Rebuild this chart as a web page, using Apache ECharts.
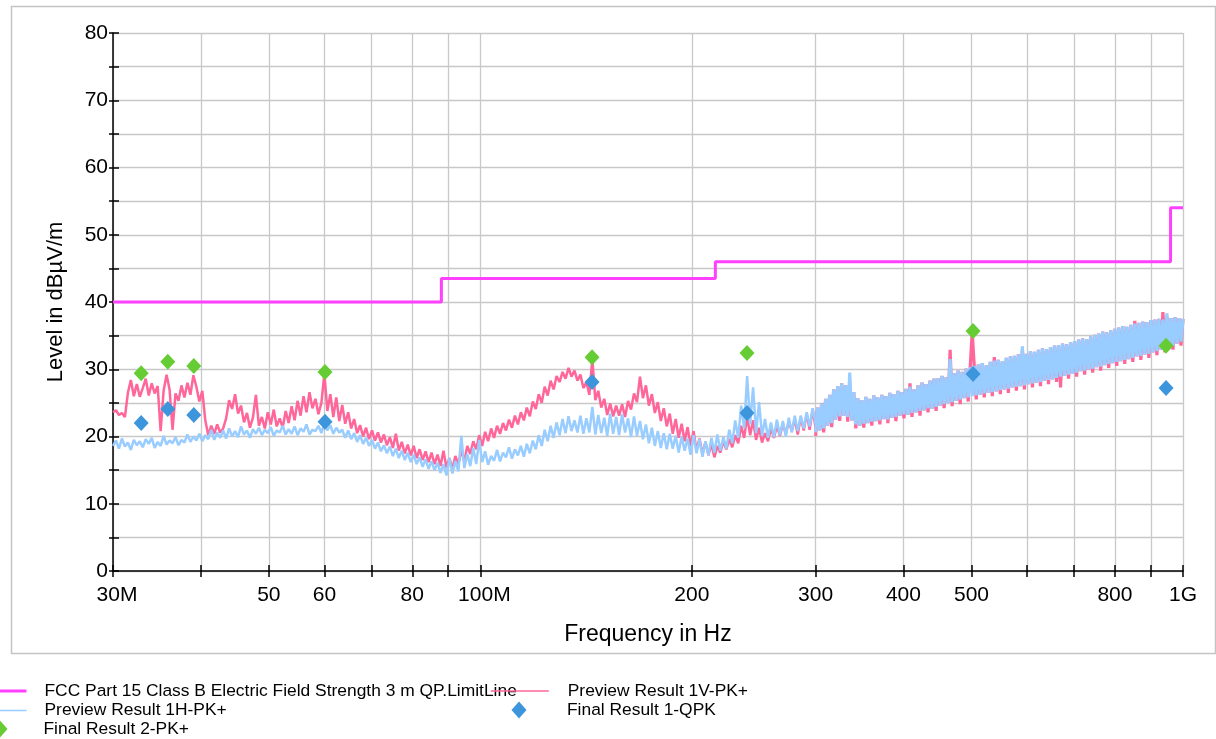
<!DOCTYPE html>
<html>
<head>
<meta charset="utf-8">
<script src="https://cdn.jsdelivr.net/npm/echarts@6/dist/echarts.min.js"></script>
<style>
  html, body { margin: 0; padding: 0; background: #ffffff; }
  #chart { width: 1216px; height: 739px; }
</style>
</head>
<body>
<div id="chart"></div>
<script>
// Sweep segments of the radiated emission scan (MHz): 30-300 and 300-1000
const sweepEdgesMHz = [30, 300, 1000];

// Frequency axis: grid lines and labelled ticks (MHz)
const gridFreqs = [30, 40, 50, 60, 70, 80, 90, 100, 200, 300, 400, 500, 600, 700, 800, 900, 1000];
const labelFreqs = [30, 50, 60, 80, 100, 200, 300, 400, 500, 800, 1000];
const labelTexts = ['30M', '50', '60', '80', '100M', '200', '300', '400', '500', '800', '1G'];

// FCC Part 15 Class B limit (3 m, quasi-peak), stepped
const limitFreqs = [30, 88, 88, 216, 216, 960, 960, 1000];
const limitLevels = [40, 40, 43.5, 43.5, 46, 46, 54, 54];

// Preview scan, vertical antenna, peak detector, 30-300 MHz (dBµV/m)
const previewVLow = [
  23.6, 23.9, 23.2, 23.5, 22.9, 26.5, 28.4, 26.0, 27.8, 25.9,
  27.2, 28.6, 26.1, 27.9, 26.4, 27.5, 20.8, 26.8, 29.2, 27.0,
  21.0, 26.4, 25.3, 27.6, 25.8, 28.0, 26.2, 29.1, 27.4, 25.2,
  26.8, 22.4, 20.2, 21.6, 20.4, 21.8, 20.6, 21.2, 22.7, 25.4,
  24.1, 26.3, 23.4, 24.6, 22.1, 23.5, 21.3, 22.8, 26.2, 21.6,
  22.9, 21.2, 23.6, 21.8, 24.0, 21.5, 22.7, 21.3, 23.8, 22.0,
  24.5, 22.4, 25.3, 23.1, 26.0, 23.6, 26.6, 24.2, 25.6, 23.3,
  25.0, 29.4, 23.8, 26.3, 22.9, 25.8, 22.3, 24.7, 21.9, 23.6,
  21.2, 22.6, 20.5, 21.7, 20.0, 21.3, 19.6, 20.9, 19.4, 20.6,
  19.1, 20.3, 18.7, 19.9, 18.3, 20.4, 17.9, 19.2, 17.5, 18.8,
  17.2, 18.6, 16.8, 18.1, 16.5, 17.8, 16.2, 17.6, 15.9, 17.3,
  15.6, 17.9, 15.4, 16.8, 15.2, 17.1, 15.8, 18.0, 16.3, 18.6,
  17.4, 19.3, 18.1, 20.2, 18.6, 20.7, 19.3, 21.2, 19.8, 21.6,
  20.4, 22.0, 20.9, 22.5, 21.3, 23.1, 21.8, 23.6, 22.4, 24.3,
  23.0, 25.2, 24.1, 26.3, 25.0, 27.4, 26.1, 28.3, 27.0, 29.0,
  28.1, 29.6, 28.6, 30.2, 28.9, 29.8, 28.3, 29.2, 27.2, 28.1,
  26.2, 31.6, 25.4, 26.8, 24.3, 25.6, 23.2, 24.9, 23.0, 24.6,
  23.1, 24.8, 22.9, 25.3, 24.0, 26.4, 25.1, 28.9, 25.7, 27.6,
  24.6, 26.3, 23.5, 25.1, 22.3, 24.2, 21.5, 23.4, 20.4, 22.6,
  19.8, 21.9, 19.3, 21.4, 18.6, 20.8, 17.9, 19.7, 17.4, 19.2,
  17.2, 18.9, 16.9, 18.6, 17.6, 19.3, 18.1, 19.6, 18.4, 20.2,
  19.0, 21.6, 19.8, 23.0, 20.2, 22.4, 19.5, 21.3, 19.1, 20.5,
  19.3, 21.2, 19.8, 21.6, 20.1, 21.9, 20.4, 22.3, 20.8, 22.6,
  20.3, 22.9, 20.9, 23.4, 21.0, 24.0, 21.3
];

// Preview scan, vertical antenna, peak detector, 300-1000 MHz (dBµV/m)
const previewVHigh = [
  20.1, 24.3, 20.9, 24.9, 20.6, 25.6, 21.6, 26.2, 21.4, 27.0,
  22.5, 27.5, 22.3, 27.9, 23.1, 27.6, 22.2, 28.0, 22.4, 26.6,
  21.2, 25.7, 21.6, 25.4, 21.3, 25.9, 22.0, 25.6, 21.6, 26.1,
  22.3, 25.8, 21.8, 26.2, 22.6, 26.0, 22.0, 26.5, 22.8, 26.3,
  22.3, 26.8, 23.1, 26.6, 22.7, 27.1, 23.2, 27.9, 22.9, 27.0,
  23.6, 27.6, 23.1, 28.0, 23.9, 27.8, 23.6, 28.3, 24.1, 28.6,
  23.8, 28.7, 24.6, 29.0, 24.2, 28.8, 25.0, 32.9, 24.5, 29.4,
  25.3, 29.8, 24.8, 29.6, 25.7, 30.1, 25.2, 30.3, 35.6, 30.5,
  25.5, 30.7, 26.2, 30.9, 25.8, 30.6, 26.5, 31.1, 26.0, 31.8,
  26.7, 31.4, 26.3, 31.2, 27.0, 31.7, 26.5, 31.9, 27.3, 32.0,
  26.8, 32.2, 27.5, 32.9, 27.0, 32.3, 27.8, 32.7, 27.3, 32.6,
  28.0, 32.9, 27.5, 33.1, 28.3, 33.0, 27.8, 33.3, 28.5, 33.5,
  28.1, 33.6, 27.3, 33.8, 29.0, 33.7, 28.6, 34.0, 29.3, 34.2,
  28.9, 34.4, 29.7, 34.6, 29.2, 34.5, 30.0, 34.9, 29.5, 35.1,
  30.3, 35.3, 29.8, 35.6, 30.6, 35.5, 30.2, 35.8, 30.9, 36.0,
  30.5, 36.2, 31.2, 36.4, 30.8, 36.3, 31.5, 36.6, 31.1, 37.2,
  31.9, 36.9, 31.4, 37.1, 32.2, 37.0, 31.7, 37.3, 32.5, 37.4,
  32.1, 37.5, 32.9, 38.5, 32.5, 37.8, 33.3, 37.6, 32.9, 37.7,
  33.8, 37.6, 33.5, 37.5
];

// Preview scan, horizontal antenna, peak detector, 30-300 MHz (dBµV/m)
const previewHLow = [
  18.6, 19.4, 18.2, 19.7, 18.5, 19.1, 18.0, 19.5, 18.7, 19.3,
  18.4, 19.6, 18.9, 19.8, 18.3, 19.2, 18.6, 20.1, 18.8, 19.4,
  19.0, 19.9, 18.7, 19.5, 19.1, 20.3, 19.2, 20.0, 19.4, 20.4,
  19.3, 20.2, 19.6, 21.0, 19.5, 20.6, 19.8, 20.9, 19.7, 21.2,
  20.0, 20.8, 19.9, 21.5, 20.3, 20.9, 19.8, 21.1, 20.4, 21.3,
  20.2, 21.0, 20.5, 21.4, 20.1, 20.9, 20.6, 21.6, 20.3, 21.1,
  20.4, 21.5, 20.2, 21.2, 20.7, 21.8, 20.3, 21.0, 20.8, 21.6,
  20.5, 22.0, 20.9, 21.7, 20.4, 21.3, 20.6, 21.0, 19.8, 20.9,
  19.6, 20.5, 19.2, 20.2, 18.9, 19.8, 18.6, 19.5, 18.2, 19.1,
  17.8, 18.7, 17.5, 18.5, 17.1, 18.2, 16.8, 17.9, 16.5, 17.6,
  16.2, 17.3, 15.9, 16.9, 15.5, 16.6, 15.2, 16.3, 15.0, 16.1,
  14.6, 15.9, 14.2, 16.8, 14.5, 16.4, 14.8, 20.1, 15.3, 17.4,
  15.6, 18.3, 15.9, 19.5, 16.2, 17.8, 15.8, 17.1, 16.4, 18.0,
  16.3, 17.6, 16.9, 18.4, 16.7, 18.1, 17.2, 18.6, 17.0, 18.9,
  17.5, 19.4, 18.1, 20.2, 18.6, 21.0, 19.3, 21.6, 19.8, 22.1,
  20.2, 22.6, 20.5, 23.0, 20.8, 22.4, 20.6, 23.1, 20.4, 22.7,
  20.6, 24.4, 20.3, 23.2, 20.5, 22.8, 20.1, 23.4, 20.4, 22.9,
  20.2, 23.3, 20.6, 22.7, 19.9, 23.0, 20.1, 22.3, 19.6, 21.8,
  19.0, 21.3, 18.6, 20.8, 18.3, 20.5, 18.1, 20.4, 18.2, 20.1,
  17.6, 20.0, 17.9, 19.7, 17.3, 20.2, 17.5, 19.6, 17.0, 19.3,
  17.2, 19.8, 17.6, 20.3, 17.9, 19.9, 18.2, 21.0, 19.0, 22.4,
  19.8, 24.6, 21.2, 29.0, 21.8, 27.3, 20.5, 25.1, 20.1, 22.6,
  19.8, 22.1, 19.9, 22.5, 20.2, 22.3, 20.0, 22.8, 20.6, 23.1,
  20.8, 23.1, 21.2, 23.6, 21.5, 24.2, 21.8
];

// Preview scan, horizontal antenna, peak detector, 300-1000 MHz (dBµV/m)
const previewHHigh = [
  20.6, 24.3, 20.9, 24.9, 21.2, 25.6, 21.6, 26.2, 22.0, 27.0,
  22.5, 27.5, 23.0, 27.9, 23.1, 27.6, 22.9, 29.5, 22.4, 26.6,
  21.8, 25.7, 21.6, 25.4, 21.9, 25.9, 22.0, 25.6, 22.2, 26.1,
  22.3, 25.8, 22.4, 26.2, 22.6, 26.0, 22.5, 26.5, 22.8, 26.3,
  22.9, 26.8, 23.1, 26.6, 23.3, 27.1, 23.2, 27.4, 23.5, 27.0,
  23.6, 27.6, 23.8, 28.0, 23.9, 27.8, 24.2, 28.3, 24.1, 28.6,
  24.4, 28.7, 24.6, 29.0, 24.8, 28.8, 25.0, 31.5, 25.1, 29.4,
  25.3, 29.8, 25.5, 29.6, 25.7, 30.1, 25.8, 30.3, 26.0, 30.5,
  26.1, 30.7, 26.2, 30.9, 26.4, 30.6, 26.5, 31.1, 26.6, 31.3,
  26.7, 31.4, 26.9, 31.2, 27.0, 31.7, 27.1, 31.9, 27.3, 32.0,
  27.4, 32.2, 27.5, 33.4, 27.6, 32.3, 27.8, 32.7, 27.9, 32.6,
  28.0, 32.9, 28.1, 33.1, 28.3, 33.0, 28.4, 33.3, 28.5, 33.5,
  28.7, 33.6, 28.9, 33.8, 29.0, 33.7, 29.2, 34.0, 29.3, 34.2,
  29.5, 34.4, 29.7, 34.6, 29.8, 34.5, 30.0, 34.9, 30.1, 35.1,
  30.3, 35.3, 30.4, 35.6, 30.6, 35.5, 30.8, 35.8, 30.9, 36.0,
  31.1, 36.2, 31.2, 36.4, 31.4, 36.3, 31.5, 36.6, 31.7, 36.8,
  31.9, 36.9, 32.0, 37.1, 32.2, 37.0, 32.3, 37.3, 32.5, 37.4,
  32.7, 37.5, 32.9, 37.4, 33.1, 38.3, 33.3, 37.6, 33.5, 37.7,
  33.8, 37.6, 34.1, 37.5
];

// Final measurements at the critical frequencies (MHz, dBµV/m)
const finalFreqs = [32.9, 35.9, 39.1, 60.1, 144.2, 239.6, 502.6, 946.0];
const finalQpk = [22.0, 24.1, 23.2, 22.2, 28.1, 23.5, 29.3, 27.2];
const finalPk = [29.4, 31.1, 30.5, 29.6, 31.8, 32.4, 35.7, 33.5];

const FONT = '"Liberation Sans", Arial, sans-serif';
const lg = Math.log10;

// spread one segment of levels evenly (in log frequency) between its edges
function sweepSegment(levels, f0, f1) {
  const a = lg(f0), b = lg(f1), n = levels.length;
  return levels.map((v, i) => [a + (b - a) * i / (n - 1), v]);
}
function pairs(freqs, levels) {
  return freqs.map((f, i) => [lg(f), levels[i]]);
}

const gridValues = gridFreqs.map(lg);
const labelValues = labelFreqs.map(lg);

function freqLabel(v) {
  const k = labelValues.findIndex(x => Math.abs(x - v) < 1e-6);
  if (k < 0) return '';
  const t = labelTexts[k];
  return (t === '30M' || t === '100M') ? '{s|' + t + '}' : t;
}

const chart = echarts.init(document.getElementById('chart'), null, { renderer: 'canvas' });

const xMin = lg(sweepEdgesMHz[0]), xMax = lg(sweepEdgesMHz[2]);

const NAME_LIMIT = 'FCC Part 15 Class B Electric Field Strength 3 m QP.LimitLine';
const NAME_V = 'Preview Result 1V-PK+';
const NAME_H = 'Preview Result 1H-PK+';
const NAME_QPK = 'Final Result 1-QPK';
const NAME_PK = 'Final Result 2-PK+';

const COLOR_V = '#ff6699';
const COLOR_H = '#99ccff';

// legend diamond, slightly taller than wide
const DIAMOND_ICON = 'path://M7.5,0L15,8.5L7.5,17L0,8.5Z';

function legendText(padLeft) {
  return { fontSize: 17.4, color: '#000', fontFamily: FONT, lineHeight: 18, padding: [0, 0, 0, padLeft] };
}
const hiddenMarker = { opacity: 0 };
const legendBase = { orient: 'vertical', padding: 0, itemHeight: 14, itemGap: 1.5, selectedMode: false, symbolKeepAspect: true };

// one preview trace drawn as two sweep segments under the same legend name;
// the densely sampled upper segment uses a heavier stroke
function traceSeries(name, color, z, low, high) {
  return [{
    name: name, type: 'line', z: z, symbol: 'none',
    data: sweepSegment(low, sweepEdgesMHz[0], sweepEdgesMHz[1]),
    lineStyle: { color: color, width: 2.5 }, itemStyle: { color: color }
  }, {
    name: name, type: 'line', z: z, symbol: 'none',
    data: sweepSegment(high, sweepEdgesMHz[1], sweepEdgesMHz[2]),
    lineStyle: { color: color, width: 3.2 }, itemStyle: { color: color }
  }];
}

const option = {
  animation: false,
  backgroundColor: '#ffffff',
  graphic: [{
    type: 'rect', left: 9, top: 4, z: -10, silent: true,
    shape: { width: 1204, height: 647 },
    style: { fill: 'none', stroke: '#c4c4c4', lineWidth: 1.5 }
  }],
  grid: { left: 113, right: 33, top: 33, bottom: 168, containLabel: false },
  legend: [
    Object.assign({}, legendBase, {
      data: [
        { name: NAME_LIMIT, itemStyle: hiddenMarker, lineStyle: { width: 3 } },
        { name: NAME_H, itemStyle: hiddenMarker, lineStyle: { width: 1.5 } }
      ],
      left: -25, top: 682, itemWidth: 50, textStyle: legendText(13)
    }),
    Object.assign({}, legendBase, {
      data: [{ name: NAME_PK, icon: DIAMOND_ICON }],
      left: -7.5, top: 720, itemWidth: 15, itemHeight: 17, textStyle: legendText(31)
    }),
    Object.assign({}, legendBase, {
      data: [{ name: NAME_V, itemStyle: hiddenMarker, lineStyle: { width: 1.5 } }],
      left: 490, top: 682, itemWidth: 58, textStyle: legendText(14)
    }),
    Object.assign({}, legendBase, {
      data: [{ name: NAME_QPK, icon: DIAMOND_ICON }],
      left: 511.5, top: 701, itemWidth: 15, itemHeight: 17, textStyle: legendText(35.5)
    })
  ],
  xAxis: [{
    type: 'value', min: xMin, max: xMax, position: 'bottom',
    name: 'Frequency in Hz', nameLocation: 'middle', nameGap: 52,
    nameTextStyle: { fontSize: 23, color: '#000', fontFamily: FONT },
    axisLine: { show: true, onZero: false, lineStyle: { color: '#000', width: 1.5 } },
    axisTick: { show: true, customValues: gridValues, length: 6, lineStyle: { color: '#000', width: 1.5 } },
    axisLabel: {
      customValues: labelValues, formatter: freqLabel, margin: 14,
      fontSize: 21, color: '#000', fontFamily: FONT,
      rich: { s: { fontSize: 21, color: '#000', fontFamily: FONT, padding: [0, 0, 0, 8] } }
    },
    splitLine: { show: true, lineStyle: { color: '#c8c8c8', width: 1.3 } }
  }, {
    type: 'value', min: xMin, max: xMax, position: 'bottom',
    axisLine: { show: false },
    axisTick: { show: true, inside: true, customValues: gridValues, length: 6, lineStyle: { color: '#000', width: 1.5 } },
    axisLabel: { show: false },
    splitLine: { show: false }
  }],
  yAxis: [{
    type: 'value', min: 0, max: 80, interval: 5, position: 'left',
    name: 'Level in dBµV/m', nameLocation: 'middle', nameGap: 46, nameRotate: 90,
    nameTextStyle: { fontSize: 22, color: '#000', fontFamily: FONT },
    axisLine: { show: true, onZero: false, lineStyle: { color: '#000', width: 1.5 } },
    axisTick: { show: true, length: 4, lineStyle: { color: '#000', width: 1.5 } },
    axisLabel: {
      margin: 5, fontSize: 21, color: '#000', fontFamily: FONT,
      formatter: v => (v % 10 === 0 ? String(v) : '')
    },
    splitLine: { show: true, lineStyle: { color: '#c8c8c8', width: 1.3 } }
  }, {
    type: 'value', min: 0, max: 80, interval: 5, position: 'left',
    axisLine: { show: false },
    axisTick: { show: true, inside: true, length: 6, lineStyle: { color: '#000', width: 1.5 } },
    axisLabel: { show: false },
    splitLine: { show: false }
  }],
  series: [{
    name: NAME_LIMIT,
    type: 'line', data: pairs(limitFreqs, limitLevels),
    symbol: 'none', z: 4,
    lineStyle: { color: '#ff40ff', width: 3 },
    itemStyle: { color: '#ff40ff' }
  }].concat(
    traceSeries(NAME_V, COLOR_V, 2, previewVLow, previewVHigh),
    traceSeries(NAME_H, COLOR_H, 3, previewHLow, previewHHigh),
    [{
      name: NAME_QPK,
      type: 'scatter', data: pairs(finalFreqs, finalQpk),
      symbol: 'diamond', symbolSize: [15, 16], z: 5,
      itemStyle: { color: '#3d96dc', opacity: 1 }
    }, {
      name: NAME_PK,
      type: 'scatter', data: pairs(finalFreqs, finalPk),
      symbol: 'diamond', symbolSize: [15, 16], z: 5,
      itemStyle: { color: '#66cc33', opacity: 1 }
    }]
  )
};

chart.setOption(option);
</script>
</body>
</html>
